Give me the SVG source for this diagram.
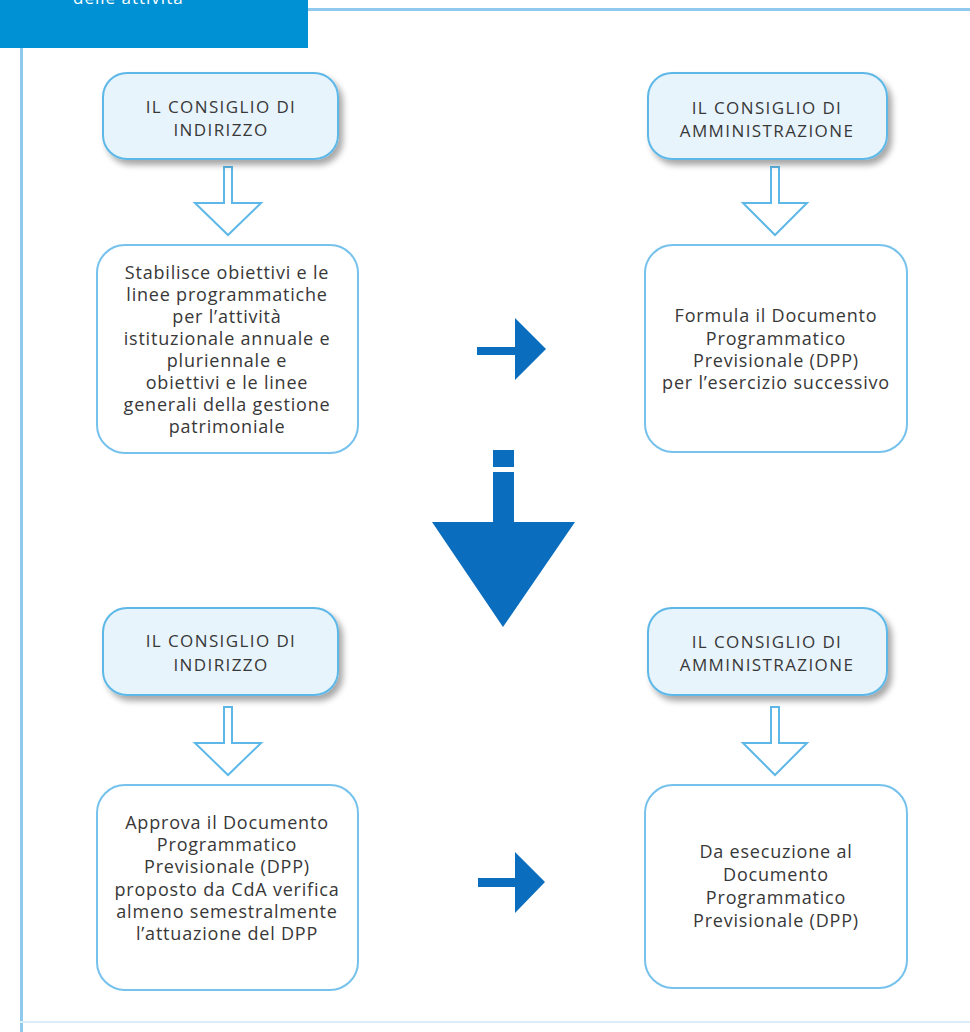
<svg xmlns="http://www.w3.org/2000/svg" width="970" height="1032" viewBox="0 0 970 1032">
  <style>
    .frame { stroke: #8fcaee; fill: none; }
    .head { fill: #e8f4fc; stroke: #5db8e8; stroke-width: 2; }
    .body { fill: #ffffff; stroke: #76c2ec; stroke-width: 2; }
    .hollow { fill: #ffffff; stroke: #5db8e8; stroke-width: 2; stroke-linejoin: miter; }
    .solid { fill: #0a6dbd; }
    .cap { font-family: "Open Sans", "Liberation Sans", sans-serif; font-size: 17px; letter-spacing: 1.4px; fill: #383838; text-anchor: middle; }
    .txt { font-family: "Open Sans", "Liberation Sans", sans-serif; font-size: 18px; letter-spacing: 0.8px; fill: #383838; text-anchor: middle; }
    .tab { font-family: "Open Sans", "Liberation Sans", sans-serif; font-size: 17px; letter-spacing: 1px; fill: #ffffff; }
  </style>
  <defs>
    <filter id="shadow" x="-10%" y="-20%" width="125%" height="150%">
      <feGaussianBlur in="SourceAlpha" stdDeviation="3"/>
      <feOffset dx="4" dy="5" result="b"/>
      <feComponentTransfer><feFuncA type="linear" slope="0.35"/></feComponentTransfer>
      <feMerge><feMergeNode/><feMergeNode in="SourceGraphic"/></feMerge>
    </filter>
  </defs>

  <rect width="970" height="1032" fill="#ffffff"/>

  <!-- page frame and section tab -->
  <g id="frame">
    <line class="frame" x1="308" y1="9.5" x2="970" y2="9.5" stroke-width="3"/>
    <line class="frame" x1="21.5" y1="48" x2="21.5" y2="1032" stroke-width="3"/>
    <line x1="20" y1="1022" x2="970" y2="1022" stroke="#dcedf9" stroke-width="2"/>
    <rect x="0" y="0" width="308" height="48" fill="#0091d5"/>
    <text class="tab" x="73" y="4">delle attività</text>
  </g>

  <!-- connectors -->
  <g id="connectors">
    <path class="hollow" d="M224,167 H232 V203 H261 L228,235 L195,203 H224 Z"/>
    <path class="hollow" d="M771,167 H779 V203 H807 L775,235 L743,203 H771 Z"/>
    <path class="hollow" d="M224,707 H232 V743 H261 L228,775 L195,743 H224 Z"/>
    <path class="hollow" d="M771,707 H779 V743 H807 L775,775 L743,743 H771 Z"/>
    <path class="solid" d="M477,347 H515 V318 L546,349 L515,380 V355 H477 Z"/>
    <path class="solid" d="M478,878 H515 V852 L545,882 L515,913 V887 H478 Z"/>
    <rect class="solid" x="493" y="450" width="21" height="17"/>
    <path class="solid" d="M493,472 H514 V522 H575 L503,627 L432,522 H493 Z"/>
  </g>

  <!-- row 1 -->
  <g id="ci-top" filter="url(#shadow)">
    <rect class="head" x="103" y="73" width="235" height="86" rx="24"/>
  </g>
  <g id="ci-top-label">
    <text class="cap" x="221" y="113">IL CONSIGLIO DI</text>
    <text class="cap" x="221" y="136">INDIRIZZO</text>
  </g>
  <g id="cda-top" filter="url(#shadow)">
    <rect class="head" x="648" y="73" width="239" height="86" rx="24"/>
  </g>
  <g id="cda-top-label">
    <text class="cap" x="767" y="114">IL CONSIGLIO DI</text>
    <text class="cap" x="767" y="137">AMMINISTRAZIONE</text>
  </g>

  <g id="ci-obiettivi">
    <rect class="body" x="97" y="245" width="261" height="208" rx="28"/>
    <text class="txt" x="227" y="279">Stabilisce obiettivi e le</text>
    <text class="txt" x="227" y="301">linee programmatiche</text>
    <text class="txt" x="227" y="323">per l’attività</text>
    <text class="txt" x="227" y="345">istituzionale annuale e</text>
    <text class="txt" x="227" y="367">pluriennale e</text>
    <text class="txt" x="227" y="389">obiettivi e le linee</text>
    <text class="txt" x="227" y="411">generali della gestione</text>
    <text class="txt" x="227" y="433">patrimoniale</text>
  </g>
  <g id="cda-formula">
    <rect class="body" x="645" y="245" width="262" height="207" rx="28"/>
    <text class="txt" x="776" y="322">Formula il Documento</text>
    <text class="txt" x="776" y="345">Programmatico</text>
    <text class="txt" x="776" y="367">Previsionale (DPP)</text>
    <text class="txt" x="776" y="389">per l’esercizio successivo</text>
  </g>

  <!-- row 2 -->
  <g id="ci-bottom" filter="url(#shadow)">
    <rect class="head" x="103" y="608" width="235" height="87" rx="24"/>
  </g>
  <g id="ci-bottom-label">
    <text class="cap" x="221" y="647">IL CONSIGLIO DI</text>
    <text class="cap" x="221" y="671">INDIRIZZO</text>
  </g>
  <g id="cda-bottom" filter="url(#shadow)">
    <rect class="head" x="648" y="608" width="239" height="87" rx="24"/>
  </g>
  <g id="cda-bottom-label">
    <text class="cap" x="767" y="648">IL CONSIGLIO DI</text>
    <text class="cap" x="767" y="671">AMMINISTRAZIONE</text>
  </g>

  <g id="ci-approva">
    <rect class="body" x="97" y="785" width="261" height="205" rx="28"/>
    <text class="txt" x="227" y="829">Approva il Documento</text>
    <text class="txt" x="227" y="851">Programmatico</text>
    <text class="txt" x="227" y="873">Previsionale (DPP)</text>
    <text class="txt" x="227" y="896">proposto da CdA verifica</text>
    <text class="txt" x="227" y="918">almeno semestralmente</text>
    <text class="txt" x="227" y="940">l’attuazione del DPP</text>
  </g>
  <g id="cda-esecuzione">
    <rect class="body" x="645" y="785" width="262" height="203" rx="28"/>
    <text class="txt" x="776" y="858">Da esecuzione al</text>
    <text class="txt" x="776" y="881">Documento</text>
    <text class="txt" x="776" y="904">Programmatico</text>
    <text class="txt" x="776" y="927">Previsionale (DPP)</text>
  </g>
</svg>
